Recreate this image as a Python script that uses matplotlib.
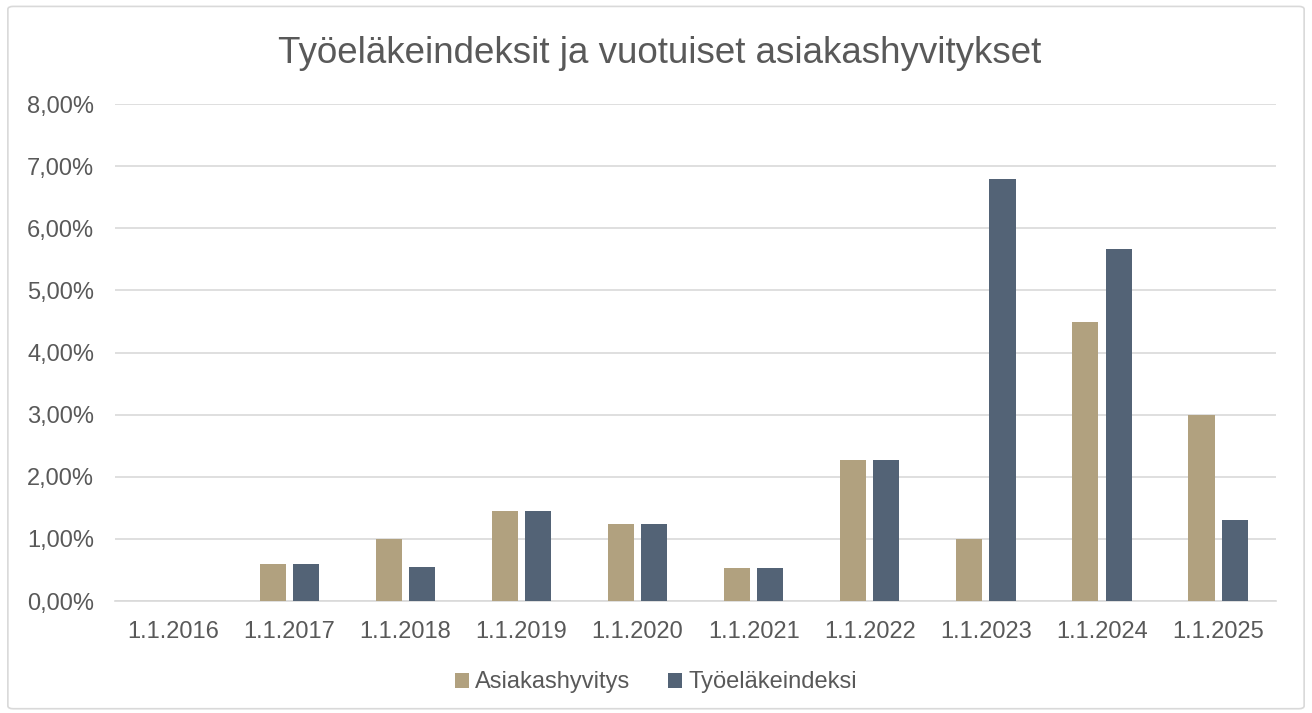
import matplotlib
matplotlib.use('Agg')
import matplotlib.pyplot as plt
from matplotlib.patches import FancyBboxPatch
import numpy as np

plt.rcParams['font.family'] = ['Liberation Sans', 'DejaVu Sans']

categories = ['1.1.2016', '1.1.2017', '1.1.2018', '1.1.2019', '1.1.2020',
              '1.1.2021', '1.1.2022', '1.1.2023', '1.1.2024', '1.1.2025']
asiakashyvitys = [0.0, 0.60, 1.00, 1.45, 1.24, 0.53, 2.27, 1.00, 4.50, 3.00]
tyoelakeindeksi = [0.0, 0.60, 0.55, 1.45, 1.24, 0.53, 2.27, 6.80, 5.67, 1.30]

tan = '#B1A17F'
slate = '#536376'
text_color = '#595959'
grid_color = '#D9D9D9'

fig = plt.figure(figsize=(13.12, 7.13), dpi=100)
fig.patches.append(FancyBboxPatch((0.006, 0.006), 0.988, 0.985,
                                  boxstyle='round,pad=0,rounding_size=0.004',
                                  transform=fig.transFigure, fill=False,
                                  edgecolor=grid_color, linewidth=1.2))

ax = fig.add_axes([0.0877, 0.157, 0.885, 0.697])
x = np.arange(len(categories))
w = 0.225
off = 0.143
ax.bar(x - off, asiakashyvitys, w, color=tan, label='Asiakashyvitys', zorder=3)
ax.bar(x + off, tyoelakeindeksi, w, color=slate, label='Työeläkeindeksi', zorder=3)

ax.set_xlim(-0.5, len(categories) - 0.5)
ax.set_ylim(0, 8)
ax.set_yticks(np.arange(0, 9, 1))
ax.set_yticklabels([f'{v:.2f}%'.replace('.', ',') for v in np.arange(0, 9, 1)])
ax.set_xticks(x)
ax.set_xticklabels(categories)
ax.tick_params(axis='both', length=0, labelsize=17, colors=text_color)
ax.tick_params(axis='x', pad=14)
ax.tick_params(axis='y', pad=15)
ax.yaxis.grid(True, color=grid_color, linewidth=1.2, zorder=0)
for s in ['top', 'right', 'left']:
    ax.spines[s].set_visible(False)
ax.spines['bottom'].set_color(grid_color)
ax.spines['bottom'].set_linewidth(1.2)

fig.text(0.503, 0.925, 'Työeläkeindeksit ja vuotuiset asiakashyvitykset',
         ha='center', va='center', fontsize=26.5, color=text_color)

fig.legend(loc='center', bbox_to_anchor=(0.5, 0.043), ncol=2, frameon=False,
           fontsize=17, labelcolor=text_color, handlelength=0.6, handleheight=0.6,
           handletextpad=0.25, columnspacing=1.6)

fig.savefig('out.png', dpi=100)
